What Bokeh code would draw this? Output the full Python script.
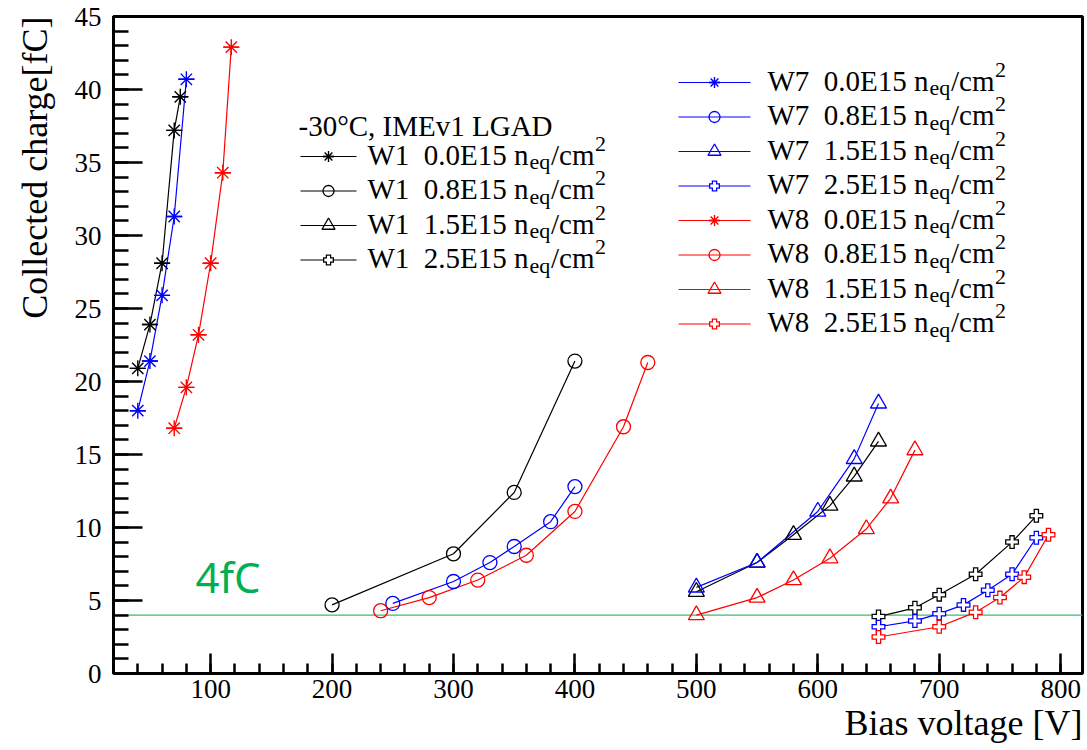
import math
from bokeh.plotting import figure
from bokeh.models import Range1d, SingleIntervalTicker, Label, Title
from bokeh.embed import file_html
from bokeh.resources import INLINE

# ---------------- data ----------------
w1_00_v = [40, 50, 60, 70, 75]
w1_00_q = [20.9, 23.9, 28.1, 37.2, 39.5]
w1_08_v = [200, 300, 350, 400]
w1_08_q = [4.7, 8.2, 12.4, 21.4]
w1_15_v = [500, 550, 580, 610, 630, 650]
w1_15_q = [5.6, 7.6, 9.5, 11.5, 13.5, 15.9]
w1_25_v = [650, 680, 700, 730, 760, 780]
w1_25_q = [3.9, 4.5, 5.4, 6.8, 9.0, 10.8]

w7_00_v = [40, 50, 60, 70, 80]
w7_00_q = [18.0, 21.4, 25.9, 31.3, 40.7]
w7_08_v = [250, 300, 330, 350, 380, 400]
w7_08_q = [4.8, 6.3, 7.6, 8.7, 10.4, 12.8]
w7_15_v = [500, 550, 600, 630, 650]
w7_15_q = [5.9, 7.6, 11.1, 14.7, 18.5]
w7_25_v = [650, 680, 700, 720, 740, 760, 780]
w7_25_q = [3.2, 3.6, 4.1, 4.7, 5.7, 6.8, 9.3]

w8_00_v = [70, 80, 90, 100, 110, 117]
w8_00_q = [16.8, 19.6, 23.2, 28.1, 34.3, 42.9]
w8_08_v = [240, 280, 320, 360, 400, 440, 460]
w8_08_q = [4.3, 5.2, 6.4, 8.1, 11.1, 16.9, 21.3]
w8_15_v = [500, 550, 580, 610, 640, 660, 680]
w8_15_q = [4.0, 5.2, 6.4, 7.9, 9.9, 12.0, 15.3]
w8_25_v = [650, 700, 730, 750, 770, 790]
w8_25_q = [2.5, 3.2, 4.2, 5.2, 6.6, 9.5]

threshold = 4.0
threshold_label = "4fC"
header_text = "-30\u00b0C, IMEv1 LGAD"
wafer_names = ["W1", "W7", "W8"]
fluence_labels = ["0.0E15", "0.8E15", "1.5E15", "2.5E15"]
x_title = "Bias voltage [V]"
y_title = "Collected charge[fC]"

# ---------------- layout ----------------
W, H = 1087, 750
L, R, T, B = 113, 5, 16, 77
FW, FH = W - L - R, H - T - B
SERIF = "Liberation Serif"
YMAX = 45

p = figure(width=W, height=H, x_range=Range1d(20, 818), y_range=Range1d(0, YMAX),
           output_backend="svg", toolbar_location=None,
           min_border_left=L, min_border_right=R, min_border_top=T, min_border_bottom=B)
p.extra_x_ranges = {"px": Range1d(L, L + FW)}
p.extra_y_ranges = {"px": Range1d(T + FH, T)}

p.background_fill_color = "white"
p.border_fill_color = "white"
p.outline_line_color = "black"
p.outline_line_width = 3
p.xgrid.visible = False
p.ygrid.visible = False

xax = p.xaxis[0]
yax = p.yaxis[0]
xax.ticker = SingleIntervalTicker(interval=100, num_minor_ticks=5)
yax.ticker = SingleIntervalTicker(interval=5, num_minor_ticks=5)
for ax, mj, mn, so in ((xax, 20, 10, 6), (yax, 29, 15, 12)):
    ax.major_tick_in = mj
    ax.major_tick_out = 0
    ax.minor_tick_in = mn
    ax.minor_tick_out = 0
    ax.axis_line_width = 3
    ax.major_tick_line_width = 2.5
    ax.minor_tick_line_width = 2.5
    ax.major_label_text_font = SERIF
    ax.major_label_text_font_size = "27px"
    ax.major_label_text_color = "black"
    ax.major_label_standoff = so

# axis titles as titles in the axis panels (outside the frame)
p.add_layout(Title(text=x_title, align="right", text_font=SERIF, text_font_size="36px",
                   text_font_style="normal", text_color="black", standoff=0), "below")
p.add_layout(Title(text=y_title, align="right", vertical_align="top", text_font=SERIF,
                   text_font_size="36px", text_font_style="normal", text_color="black",
                   standoff=29), "left")

PX = dict(x_range_name="px", y_range_name="px")


def draw_markers(x, y, color, kind, size, **kw):
    if kind == "star":
        p.scatter(x, y, marker="asterisk", size=size, line_color=color, line_width=1.4, **kw)
        p.scatter(x, y, marker="dash", size=size, line_color=color, line_width=1.4, **kw)
    elif kind == "circle":
        p.scatter(x, y, marker="circle", size=size, fill_color=None, line_color=color, line_width=1.3, **kw)
    elif kind == "triangle":
        p.scatter(x, y, marker="triangle", size=size + 2, fill_color=None, line_color=color, line_width=1.3, **kw)
    elif kind == "cross":
        p.scatter(x, y, marker="cross", size=size, line_color=color, line_width=5.5, **kw)
        p.scatter(x, y, marker="cross", size=size - 2.6, line_color="white", line_width=3, **kw)


series = [
    (w1_00_v, w1_00_q, "black", "star"), (w1_08_v, w1_08_q, "black", "circle"),
    (w1_15_v, w1_15_q, "black", "triangle"), (w1_25_v, w1_25_q, "black", "cross"),
    (w7_00_v, w7_00_q, "#0000ff", "star"), (w7_08_v, w7_08_q, "#0000ff", "circle"),
    (w7_15_v, w7_15_q, "#0000ff", "triangle"), (w7_25_v, w7_25_q, "#0000ff", "cross"),
    (w8_00_v, w8_00_q, "#ff0000", "star"), (w8_08_v, w8_08_q, "#ff0000", "circle"),
    (w8_15_v, w8_15_q, "#ff0000", "triangle"), (w8_25_v, w8_25_q, "#ff0000", "cross"),
]
# threshold line
p.line([20, 818], [threshold, threshold], line_color="#3dbb6e", line_width=1.3)
for v, q, c, k in series:
    p.line(v, q, line_color=c, line_width=1.2)
for v, q, c, k in series:
    draw_markers(v, q, c, k, 14 if k != "star" else 16)

p.add_layout(Label(x=195, y=576, text=threshold_label, text_font="Noto Sans",
                   text_font_size="42px", text_color="#00b050", text_baseline="alphabetic", **PX))


def text_label(x, y, text, size):
    p.add_layout(Label(x=x, y=y, text=text, text_font=SERIF, text_font_size=size,
                       text_color="black", text_baseline="alphabetic", **PX))


# ---------------- legends ----------------
def legend_entry(x_line0, x_line1, x_text, yb, color, kind, wafer, flu):
    ym = yb - 6
    p.line([x_line0, x_line1], [ym, ym], line_color=color, line_width=1.2, **PX)
    draw_markers([(x_line0 + x_line1) / 2], [ym], color, kind, 11, **PX)
    yt = yb - 8
    text_label(x_text, yt, f"{wafer}\u00a0\u00a0{flu} n", "29px")
    x1 = x_text + 162
    text_label(x1, yt + 7, "eq", "22px")
    x2 = x1 + 21.5
    text_label(x2, yt, "/cm", "29px")
    x3 = x2 + 44
    text_label(x3, yt - 11, "2", "22px")


kinds = ["star", "circle", "triangle", "cross"]
text_label(298, 125, header_text, "29px")
for i, (k, f) in enumerate(zip(kinds, fluence_labels)):
    legend_entry(300, 356, 367, 162 + 34.5 * i, "black", k, wafer_names[0], f)

row = 0
for wname, col in ((wafer_names[1], "#0000ff"), (wafer_names[2], "#ff0000")):
    for k, f in zip(kinds, fluence_labels):
        legend_entry(678, 750, 767, 88 + 34.5 * row, col, k, wname, f)
        row += 1

open("out.html", "w").write(file_html(p, INLINE))
